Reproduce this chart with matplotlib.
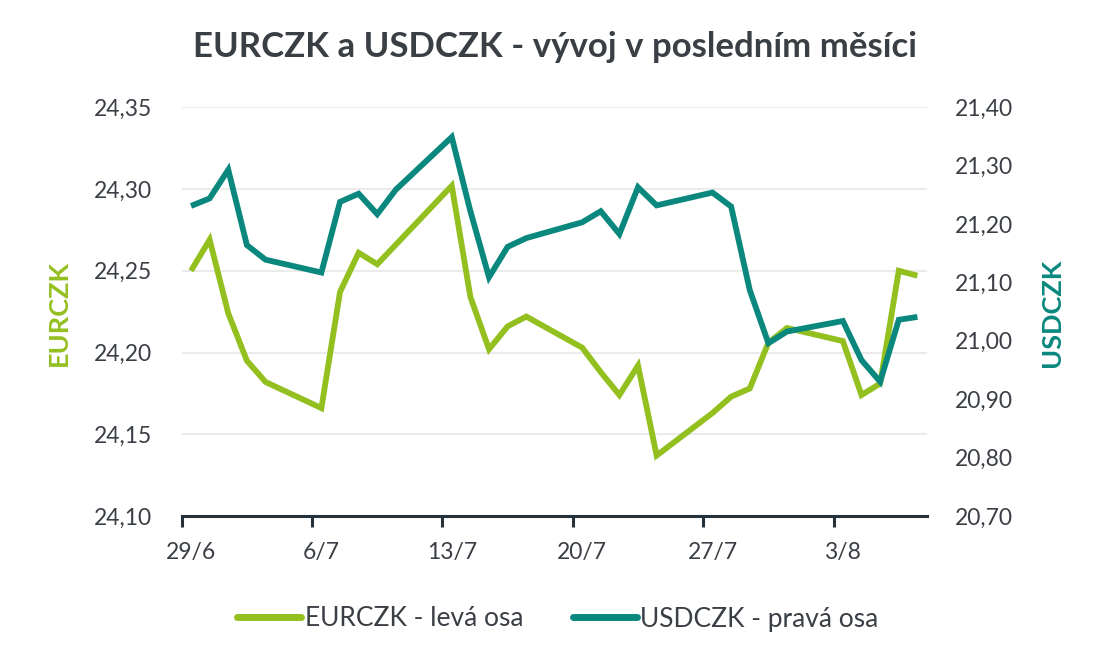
import matplotlib
matplotlib.use("Agg")
import matplotlib.pyplot as plt
import pandas as pd
from matplotlib.lines import Line2D
from matplotlib.ticker import FixedLocator, FuncFormatter

# ---------------- data ----------------
dates = ["2020-06-29", "2020-06-30", "2020-07-01", "2020-07-02", "2020-07-03",
         "2020-07-06", "2020-07-07", "2020-07-08", "2020-07-09", "2020-07-10",
         "2020-07-13", "2020-07-14", "2020-07-15", "2020-07-16", "2020-07-17",
         "2020-07-20", "2020-07-21", "2020-07-22", "2020-07-23", "2020-07-24",
         "2020-07-27", "2020-07-28", "2020-07-29", "2020-07-30", "2020-07-31",
         "2020-08-03", "2020-08-04", "2020-08-05", "2020-08-06", "2020-08-07"]
eurczk = [24.250, 24.269, 24.224, 24.195, 24.182,
          24.166, 24.237, 24.261, 24.254, 24.266,
          24.302, 24.234, 24.202, 24.216, 24.222,
          24.203, 24.188, 24.174, 24.192, 24.137,
          24.163, 24.173, 24.178, 24.206, 24.215,
          24.207, 24.174, 24.181, 24.250, 24.247]
usdczk = [21.231, 21.244, 21.293, 21.164, 21.139,
          21.117, 21.238, 21.252, 21.217, 21.259,
          21.349, 21.222, 21.109, 21.161, 21.176,
          21.203, 21.222, 21.183, 21.263, 21.232,
          21.254, 21.230, 21.087, 20.996, 21.016,
          21.034, 20.967, 20.930, 21.036, 21.041]
x_tick_dates = ["2020-06-29", "2020-07-06", "2020-07-13", "2020-07-20", "2020-07-27", "2020-08-03"]
x_tick_labels = ["29/6", "6/7", "13/7", "20/7", "27/7", "3/8"]
x_end = "2020-08-08"
left_ticks = [24.10, 24.15, 24.20, 24.25, 24.30, 24.35]
right_ticks = [20.70, 20.80, 20.90, 21.00, 21.10, 21.20, 21.30, 21.40]

title = "EURCZK a USDCZK - vývoj v posledním měsíci"
series_names = ["EURCZK - levá osa", "USDCZK - pravá osa"]
axis_names = ["EURCZK", "USDCZK"]

# ---------------- style ----------------
GREEN = "#93C01F"
TEAL = "#0A887E"
TEXT = "#3A3F45"
GRID = "#EBEBEB"
AXIS = "#25323B"
FONT = ["Lato", "DejaVu Sans"]
plt.rcParams["font.family"] = FONT

start = pd.Timestamp(dates[0])
x = [(pd.Timestamp(d) - start).days + 0.5 for d in dates]
xt = [(pd.Timestamp(d) - start).days for d in x_tick_dates]
xmax = (pd.Timestamp(x_end) - start).days

fig = plt.figure(figsize=(11.1, 6.66), dpi=100)
W, H = 1110, 666
ax = fig.add_axes([181.7 / W, 1 - 516 / H, (926.7 - 181.7) / W, (516 - 107.3) / H])
ax2 = ax.twinx()

ax.plot(x, eurczk, color=GREEN, lw=4.2, solid_joinstyle="miter", solid_capstyle="butt", zorder=3)
ax2.plot(x, usdczk, color=TEAL, lw=4.2, solid_joinstyle="miter", solid_capstyle="butt", zorder=3)

ax.set_xlim(0, xmax)
ax.set_ylim(left_ticks[0], left_ticks[-1])
ax2.set_ylim(right_ticks[0], right_ticks[-1])

ax.set_yticks(left_ticks)
ax.set_yticklabels([f"{v:.2f}".replace(".", ",") for v in left_ticks])
ax2.set_yticks(right_ticks)
ax2.set_yticklabels([f"{v:.2f}".replace(".", ",") for v in right_ticks])

ax.grid(axis="y", color=GRID, lw=1.5, zorder=0)
ax.set_axisbelow(True)

# x ticks at dates, labels centred half a day later
ax.xaxis.set_major_locator(FixedLocator(xt))
ax.xaxis.set_major_formatter(FuncFormatter(lambda v, p: ""))
ax.set_xticks([t + 0.5 for t in xt], minor=True)
ax.set_xticklabels(x_tick_labels, minor=True)
ax.tick_params(axis="x", which="major", length=8, width=2.2, color=AXIS, direction="out")
ax.tick_params(axis="x", which="minor", length=0, pad=19, labelsize=16.5, labelcolor=TEXT)
ax.tick_params(axis="y", length=0, pad=21.5, labelsize=16.5, labelcolor=TEXT)
ax2.tick_params(axis="y", length=0, pad=20, labelsize=16.5, labelcolor=TEXT)

for a in (ax, ax2):
    for s in ("top", "left", "right", "bottom"):
        a.spines[s].set_visible(False)
ax.spines["bottom"].set_visible(True)
ax.spines["bottom"].set_color(AXIS)
ax.spines["bottom"].set_linewidth(2.2)

fig.text(0.5, 1 - 47 / H, title, ha="center", va="center", fontsize=25,
         fontweight="bold", color=TEXT)
fig.text(59 / W, 1 - 313 / H, axis_names[0], rotation=90, ha="center", va="center",
         fontsize=19.5, fontweight="bold", color=GREEN)
fig.text(1052 / W, 1 - 313 / H, axis_names[1], rotation=90, ha="center", va="center",
         fontsize=19.5, fontweight="bold", color=TEAL)

handles = [Line2D([], [], color=GREEN, lw=5, solid_capstyle="round"),
           Line2D([], [], color=TEAL, lw=5, solid_capstyle="round")]
fig.legend(handles, series_names, loc="center", bbox_to_anchor=(558 / W, 1 - 619 / H),
           ncol=2, frameon=False, fontsize=19, labelcolor=TEXT,
           handlelength=2.4, handletextpad=0.15, columnspacing=1.9)

fig.savefig("out.png", dpi=100)
